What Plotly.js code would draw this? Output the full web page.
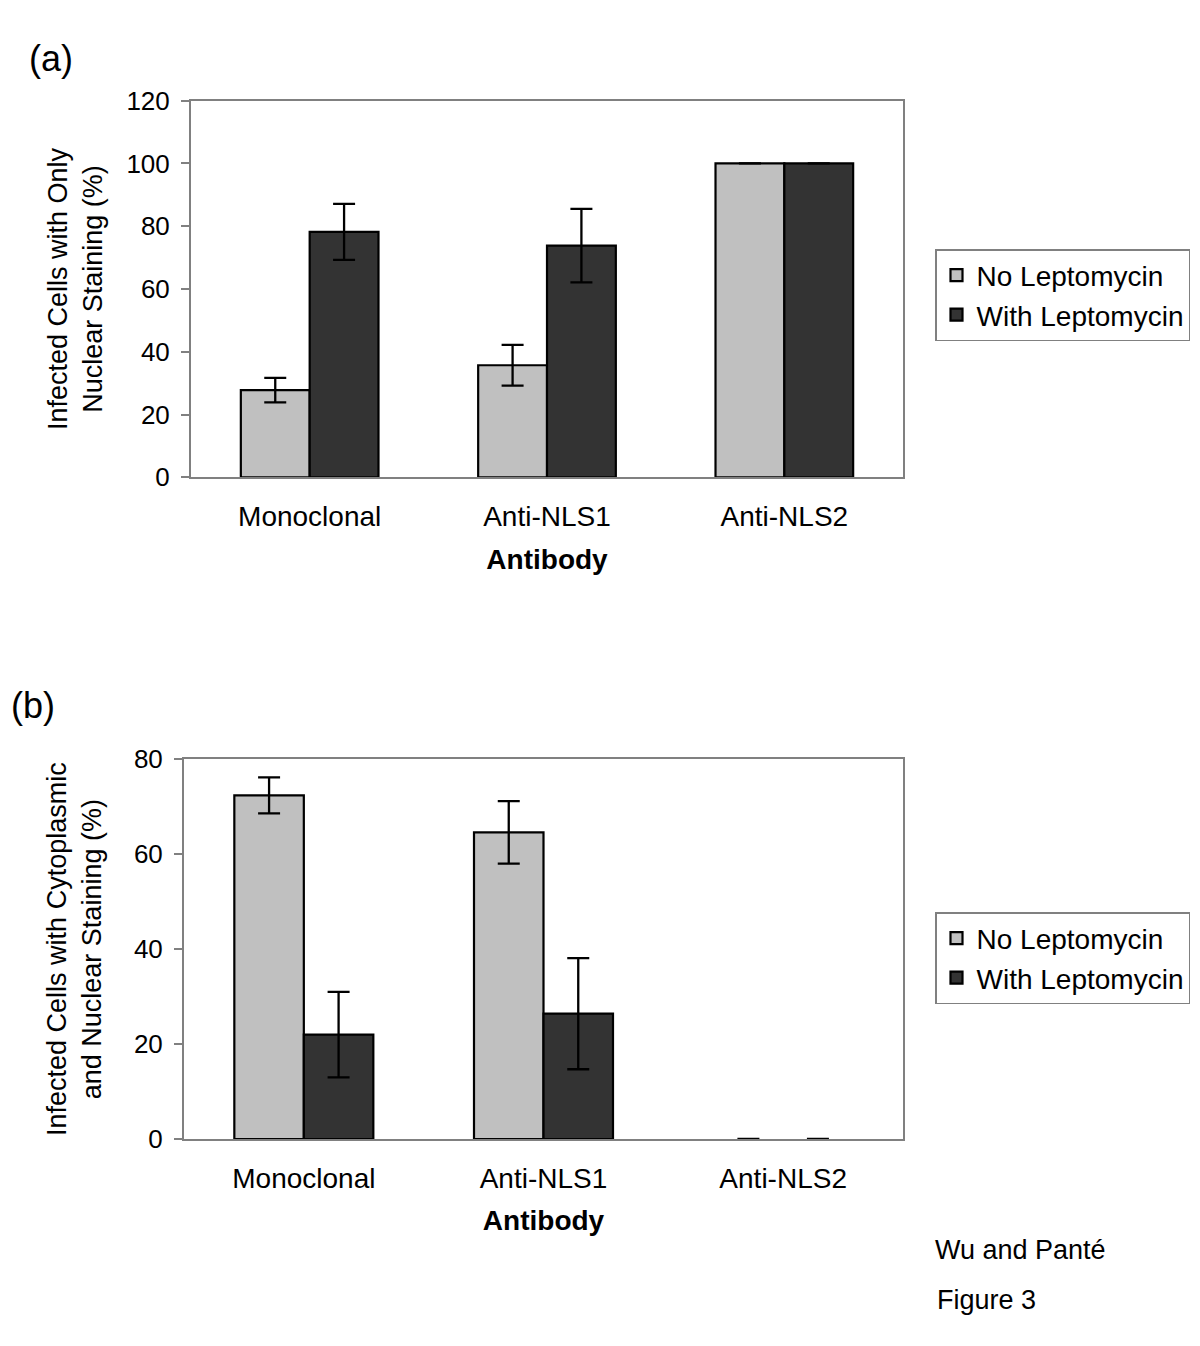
<!DOCTYPE html>
<html>
<head>
<meta charset="utf-8">
<script src="https://cdn.plot.ly/plotly-3.0.1.min.js"></script>
<style>html,body{margin:0;padding:0;background:#fff;}#chart{width:1200px;height:1346px;}</style>
</head>
<body>
<div id="chart"></div>
<script>
// Data
const antibodies = ["Monoclonal", "Anti-NLS1", "Anti-NLS2"];
const seriesNames = ["No Leptomycin", "With Leptomycin"];

// Panel (a): infected cells with only nuclear staining (%)
const aNoLepto = [27.8, 35.7, 100];
const aNoLeptoErr = [3.9, 6.5, 0];
const aWithLepto = [78.2, 73.8, 100];
const aWithLeptoErr = [8.9, 11.7, 0];

// Panel (b): infected cells with cytoplasmic and nuclear staining (%)
const bNoLepto = [72.4, 64.6, 0];
const bNoLeptoErr = [3.8, 6.6, 0];
const bWithLepto = [22.0, 26.4, 0];
const bWithLeptoErr = [9.0, 11.7, 0];

const FONT = "Liberation Sans, Arial, sans-serif";
const LIGHT = "#c0c0c0";
const DARK = "#333333";

function barTrace(name, y, err, color, xa, ya, legend) {
  // zero-height bars get no outline (only their error caps show at the baseline)
  const lw = y.map(v => (v === 0 ? 0 : 2.2));
  return {
    type: "bar", name: name, x: antibodies, y: y,
    xaxis: xa, yaxis: ya, legend: legend,
    marker: {color: color, line: {color: "#000", width: lw}},
    error_y: {type: "data", array: err, visible: true, color: "#000", thickness: 2.3, width: 11},
    hoverinfo: "skip"
  };
}

const traces = [
  barTrace(seriesNames[0], aNoLepto, aNoLeptoErr, LIGHT, "x", "y", "legend"),
  barTrace(seriesNames[1], aWithLepto, aWithLeptoErr, DARK, "x", "y", "legend"),
  barTrace(seriesNames[0], bNoLepto, bNoLeptoErr, LIGHT, "x2", "y2", "legend2"),
  barTrace(seriesNames[1], bWithLepto, bWithLeptoErr, DARK, "x2", "y2", "legend2")
];

const W = 1200, H = 1346;
const px = v => v / W;
const py = v => 1 - v / H;

const axisCommon = {
  showline: true, linecolor: "#808080", linewidth: 2, mirror: true,
  showgrid: false, zeroline: false
};
const xTickFont = {family: FONT, size: 28, color: "#000"};
const yTickFont = {family: FONT, size: 26, color: "#000"};
const titleFont = {family: FONT, size: 28, color: "#000"};
const yTitleFont = {family: FONT, size: 27, color: "#000"};

const legendCommon = {
  xanchor: "left", yanchor: "top",
  bordercolor: "#808080", borderwidth: 1.5, bgcolor: "#fff",
  font: {family: FONT, size: 28, color: "#000"}, itemwidth: 30,
  traceorder: "normal"
};

const layout = {
  width: W, height: H,
  margin: {l: 0, r: 0, t: 0, b: 0},
  paper_bgcolor: "#fff", plot_bgcolor: "#fff",
  font: {family: FONT, color: "#000"},
  barmode: "group", bargap: 0.42, bargroupgap: 0,
  showlegend: true,
  xaxis: Object.assign({}, axisCommon, {
    domain: [px(191), px(903)], anchor: "y",
    ticks: "", ticklabelstandoff: 13, tickfont: xTickFont,
    title: {text: "<b>Antibody</b>", font: titleFont, standoff: 18}
  }),
  yaxis: Object.assign({}, axisCommon, {
    domain: [py(477.3), py(100.7)], anchor: "x",
    range: [0, 120], dtick: 20, ticks: "outside", ticklen: 8, tickwidth: 2, tickcolor: "#808080",
    ticklabelstandoff: 6, tickfont: yTickFont,
    title: {text: "Infected Cells with Only<br>Nuclear Staining (%)", font: yTitleFont, standoff: 16}
  }),
  xaxis2: Object.assign({}, axisCommon, {
    domain: [px(184), px(903)], anchor: "y2",
    ticks: "", ticklabelstandoff: 13, tickfont: xTickFont,
    title: {text: "<b>Antibody</b>", font: titleFont, standoff: 18}
  }),
  yaxis2: Object.assign({}, axisCommon, {
    domain: [py(1139), py(759.3)], anchor: "x2",
    range: [0, 80], dtick: 20, ticks: "outside", ticklen: 8, tickwidth: 2, tickcolor: "#808080",
    ticklabelstandoff: 6, tickfont: yTickFont,
    title: {text: "Infected Cells with Cytoplasmic<br>and Nuclear Staining (%)", font: yTitleFont, standoff: 24}
  }),
  legend: Object.assign({}, legendCommon, {x: px(935), y: py(249)}),
  legend2: Object.assign({}, legendCommon, {x: px(935), y: py(912)}),
  annotations: [
    {text: "(a)", x: px(27), y: py(59), xref: "paper", yref: "paper", xanchor: "left", yanchor: "middle", showarrow: false, font: {family: FONT, size: 36, color: "#000"}},
    {text: "(b)", x: px(9), y: py(705), xref: "paper", yref: "paper", xanchor: "left", yanchor: "middle", showarrow: false, font: {family: FONT, size: 36, color: "#000"}},
    {text: "Wu and Panté", x: px(933), y: py(1250), xref: "paper", yref: "paper", xanchor: "left", yanchor: "middle", showarrow: false, font: {family: FONT, size: 27, color: "#000"}},
    {text: "Figure 3", x: px(935), y: py(1300), xref: "paper", yref: "paper", xanchor: "left", yanchor: "middle", showarrow: false, font: {family: FONT, size: 27, color: "#000"}}
  ]
};

Plotly.newPlot("chart", traces, layout, {displayModeBar: false, staticPlot: true});
</script>
</body>
</html>
